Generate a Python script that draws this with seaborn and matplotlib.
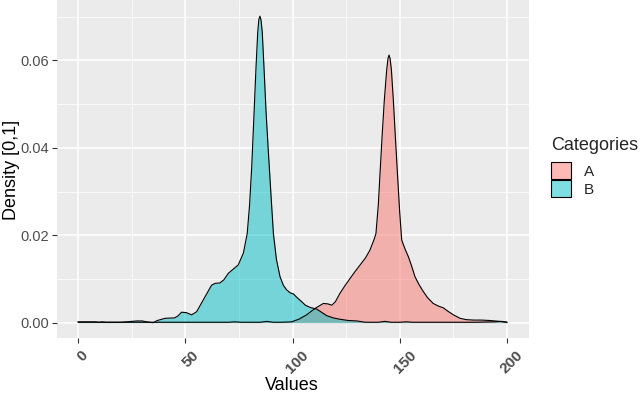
import numpy as np
import pandas as pd
import matplotlib
matplotlib.use("Agg")
import matplotlib.pyplot as plt
import matplotlib.transforms as mtransforms
from matplotlib.patches import Patch
from matplotlib.ticker import MultipleLocator, FormatStrFormatter
import seaborn as sns

# ---- data ----
categories = ["A", "B"]

a_x = [0, 5, 10, 20, 30, 40, 50, 60, 70, 73, 76, 85, 88, 91, 95, 99.6, 103, 106.6, 109,
       111.3, 114.4, 116.5, 118.3, 120, 122.1, 124.5, 126.8, 129, 131.5, 134, 136.1,
       138, 138.9, 140, 140.8, 141.8, 142.8, 143.9, 144.5, 145, 145.5, 146.1, 147, 148,
       148.9, 150, 150.9, 152.5, 154, 155.5, 157.1, 159, 161, 163, 165.6, 168, 170.3,
       172.5, 175, 178.1, 181, 184.3, 188, 192, 196.7, 200]
a_y = [0.0001, 0.0001, 0.0001, 0.0001, 0.0001, 0.0001, 0.0001, 0.0001, 0.0001, 0.0002,
       0.0001, 0.0001, 0.0003, 0.0001, 0.0001, 0.0002, 0.0008, 0.0018, 0.0027,
       0.0035, 0.0044, 0.0043, 0.0040, 0.0048, 0.0067, 0.0085, 0.0101, 0.0116, 0.0132,
       0.0148, 0.0166, 0.0190, 0.0204, 0.0270, 0.0342, 0.0430, 0.0509, 0.0578, 0.0604,
       0.0612, 0.0604, 0.0578, 0.0509, 0.0420, 0.0342, 0.0250, 0.0189, 0.0168, 0.0151,
       0.0130, 0.0105, 0.0087, 0.0071, 0.0057, 0.0044, 0.0038, 0.0034, 0.0026, 0.0018,
       0.0010, 0.0007, 0.0006, 0.0006, 0.0005, 0.0003, 0.0001]

b_x = [0, 5, 8, 10, 11, 13, 20, 27.5, 30, 32, 35, 37, 40.6, 45, 46.5, 48.3, 50.5, 53,
       55.3, 58.4, 62.3, 64, 66.2, 68, 70.1, 72.5, 74.7, 77.1, 78.9, 80, 81, 82, 83,
       83.8, 84.3, 84.8, 85.3, 85.9, 86.7, 87.7, 88.7, 90, 91.1, 92.5, 94.2, 95.8, 97.3,
       99, 100.4, 102, 104.3, 106, 108.2, 111.3, 113.5, 116, 119, 122, 126, 130, 134,
       140, 143, 146, 150, 153, 156, 170, 185, 194, 197.5, 200]
b_y = [0.0002, 0.0002, 0.0002, 0.0001, 0.0002, 0.0001, 0.0001, 0.0004, 0.0004, 0.0002,
       0.0000, 0.0005, 0.0010, 0.0011, 0.0015, 0.0024, 0.0023, 0.0018, 0.0025, 0.0052,
       0.0086, 0.0090, 0.0091, 0.0098, 0.0113, 0.0123, 0.0132, 0.0159, 0.0204, 0.0270,
       0.0357, 0.0470, 0.0585, 0.0665, 0.0693, 0.0701, 0.0693, 0.0665, 0.0585, 0.0480,
       0.0395, 0.0290, 0.0204, 0.0145, 0.0105, 0.0085, 0.0075, 0.0068, 0.0066, 0.0058,
       0.0048, 0.0040, 0.0035, 0.0031, 0.0024, 0.0016, 0.0011, 0.0008, 0.0005, 0.0004,
       0.0001, 0.0001, 0.0003, 0.0001, 0.0001, 0.0002, 0.0001, 0.0001, 0.0001, 0.0002,
       0.0003, 0.0001]

x_ticks = [0, 50, 100, 150, 200]
y_ticks = [0.00, 0.02, 0.04, 0.06]

fill_colors = {"A": "#F8766D", "B": "#00BFC4"}

df = pd.concat([
    pd.DataFrame({"Values": a_x, "Density": a_y, "Categories": "A"}),
    pd.DataFrame({"Values": b_x, "Density": b_y, "Categories": "B"}),
], ignore_index=True)

# ---- style ----
sns.set_theme(style="darkgrid", rc={
    "axes.facecolor": "#EBEBEB",
    "grid.color": "white",
    "axes.edgecolor": "#EBEBEB",
})
plt.rcParams["font.family"] = ["Liberation Sans", "DejaVu Sans"]

fig = plt.figure(figsize=(6.4, 3.93), dpi=100)
ax = fig.add_axes([56.5 / 640, 1 - 338 / 393, 472 / 640, 338 / 393])

for cat in categories:
    sub = df[df["Categories"] == cat]
    ax.fill_between(sub["Values"], sub["Density"], 0, color=fill_colors[cat],
                    alpha=0.5, linewidth=0, zorder=3)
    sns.lineplot(data=sub, x="Values", y="Density", ax=ax, color="black",
                 linewidth=0.8, sort=False, estimator=None, legend=False, zorder=4)

ax.set_xlim(-10, 210)
ax.set_ylim(-0.0035, 0.0738)
ax.set_xticks(x_ticks)
ax.set_yticks(y_ticks)
ax.xaxis.set_minor_locator(MultipleLocator(25))
ax.yaxis.set_minor_locator(MultipleLocator(0.01))
ax.yaxis.set_major_formatter(FormatStrFormatter("%.2f"))
ax.grid(True, which="major", color="white", linewidth=1.1, zorder=0)
ax.grid(True, which="minor", color="white", linewidth=0.55, zorder=0)
ax.set_axisbelow(True)
for s in ax.spines.values():
    s.set_visible(False)

ax.tick_params(axis="both", which="major", length=3.5, width=0.8, color="#333333",
               labelcolor="#4D4D4D", labelsize=10.5, pad=2, bottom=True, left=True)
ax.tick_params(axis="x", which="major", labelsize=11)
ax.tick_params(axis="both", which="minor", length=0)
for lbl in ax.get_xticklabels():
    lbl.set_rotation(45)
    lbl.set_ha("center")
    lbl.set_fontweight("bold")
    lbl.set_transform(lbl.get_transform() +
                      mtransforms.ScaledTranslation(5 / 100, -3 / 100, fig.dpi_scale_trans))

ax.set_xlabel("Values", fontsize=13, color="black")
ax.set_ylabel("Density [0,1]", fontsize=13, color="black")
ax.xaxis.set_label_coords((292 - 56.5) / 472, (338 - 385) / 338)
ax.xaxis.label.set_va("center")
ax.yaxis.set_label_coords((12 - 56.5) / 472, (338 - 170) / 338)
ax.yaxis.label.set_va("center")
ax.yaxis.label.set_ha("center")

handles = [Patch(facecolor=fill_colors[c], alpha=0.5, edgecolor="black", linewidth=0.8,
                 label=c) for c in categories]
leg = fig.legend(handles=handles, title="Categories", loc="upper left",
                 bbox_to_anchor=(551 / 640, 1 - 137 / 393), frameon=False,
                 fontsize=11, title_fontsize=13, handlelength=1.3, handleheight=1.3,
                 labelspacing=0.08, handletextpad=0.85, borderaxespad=0, borderpad=0)
leg._legend_box.align = "left"
leg._legend_box.sep = 6
for h in leg.legend_handles:
    h.set_alpha(None)
    h.set_facecolor(matplotlib.colors.to_rgba(h.get_facecolor()[:3], 0.5))
    h.set_edgecolor("black")

fig.savefig("out.png", dpi=100)
